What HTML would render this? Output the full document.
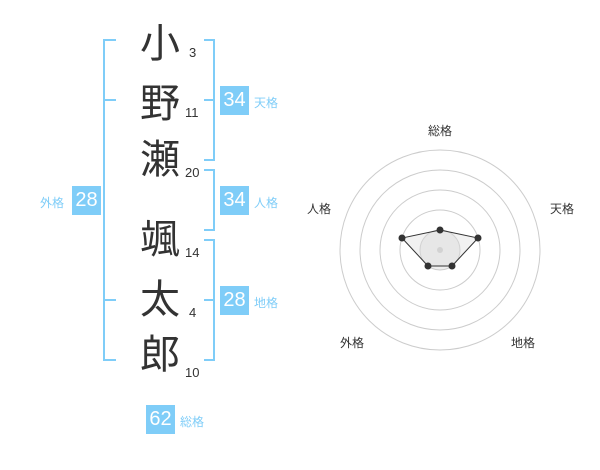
<!DOCTYPE html>
<html><head><meta charset="utf-8"><style>
body{margin:0;width:600px;height:470px;background:#fff;position:relative;font-family:"Liberation Sans","Noto Sans CJK JP",sans-serif;overflow:hidden}
.k{position:absolute;font-size:40px;color:#333;width:50px;text-align:center;line-height:40px}
.n{position:absolute;font-size:13px;color:#333}
.b{position:absolute;background:#7fcdf8;color:#fff;font-size:20px;width:29px;height:29px;line-height:29px;text-align:center}
.l{position:absolute;font-size:12px;color:#7fcdf8}
.r{position:absolute;font-size:12px;color:#333}
</style></head><body>
<svg width="600" height="470" style="position:absolute;left:0;top:0">
<g stroke="#7fcdf8" stroke-width="2" fill="none">
<path d="M116 40H104V360H116M104 100H116M104 300H116"/>
<path d="M204 40H214V160H204M204 100H214"/>
<path d="M204 170H214V230H204"/>
<path d="M204 240H214V360H204M204 300H214"/>
</g>
<g fill="none" stroke="#ccc" stroke-width="1">
<circle cx="440" cy="250" r="100"/><circle cx="440" cy="250" r="80"/><circle cx="440" cy="250" r="60"/><circle cx="440" cy="250" r="40"/>
</g>
<circle cx="440" cy="250" r="20" fill="#eee" stroke="#ccc"/>
<circle cx="440" cy="250" r="3" fill="#ccc"/>
<polygon points="440,230 478,238 452,266 428,266 402,238" fill="rgba(220,220,220,0.4)" stroke="#333" stroke-width="1"/>
<g fill="#333"><circle cx="440" cy="230" r="3.5"/><circle cx="478" cy="238" r="3.5"/><circle cx="452" cy="266" r="3.5"/><circle cx="428" cy="266" r="3.5"/><circle cx="402" cy="238" r="3.5"/></g>
</svg>
<div class="k" style="left:135px;top:24px">小</div>
<div class="k" style="left:135px;top:84px">野</div>
<div class="k" style="left:135px;top:140px">瀬</div>
<div class="k" style="left:135px;top:220px">颯</div>
<div class="k" style="left:135px;top:280px">太</div>
<div class="k" style="left:135px;top:335px">郎</div>
<div class="n" style="left:189px;top:45px">3</div>
<div class="n" style="left:185px;top:105px">11</div>
<div class="n" style="left:185px;top:165px">20</div>
<div class="n" style="left:185px;top:245px">14</div>
<div class="n" style="left:189px;top:305px">4</div>
<div class="n" style="left:185px;top:365px">10</div>
<div class="b" style="left:220px;top:86px">34</div><div class="l" style="left:254px;top:94px">天格</div>
<div class="b" style="left:220px;top:186px">34</div><div class="l" style="left:254px;top:194px">人格</div>
<div class="b" style="left:220px;top:286px">28</div><div class="l" style="left:254px;top:294px">地格</div>
<div class="b" style="left:72px;top:186px">28</div><div class="l" style="left:40px;top:194px">外格</div>
<div class="b" style="left:146px;top:405px">62</div><div class="l" style="left:180px;top:413px">総格</div>
<div class="r" style="left:428px;top:122px">総格</div>
<div class="r" style="left:550px;top:200px">天格</div>
<div class="r" style="left:511px;top:334px">地格</div>
<div class="r" style="left:340px;top:334px">外格</div>
<div class="r" style="left:307px;top:200px">人格</div>
</body></html>
